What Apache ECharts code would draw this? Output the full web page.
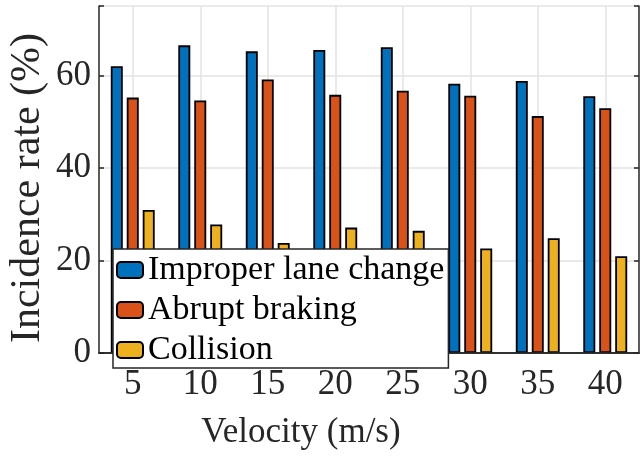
<!DOCTYPE html>
<html><head><meta charset="utf-8">
<script src="https://cdn.jsdelivr.net/npm/echarts@6/dist/echarts.min.js"></script>
<style>html,body{margin:0;padding:0;background:#fff}#c{width:641px;height:457px}</style>
</head><body><div id="c"></div>
<script>
const categories = ['5','10','15','20','25','30','35','40'];
const improperLaneChange = [62.0, 66.5, 65.2, 65.5, 66.1, 58.2, 58.8, 55.5];
const abruptBraking = [55.2, 54.6, 59.1, 55.8, 56.7, 55.6, 51.2, 52.9];
const collision = [30.9, 27.8, 23.8, 27.1, 26.4, 22.6, 24.8, 20.9];
const yTicks = [0, 20, 40, 60];
const seriesNames = ['Improper lane change', 'Abrupt braking', 'Collision'];
const colors = ['#0072BD', '#D95319', '#EDB120'];
const xTitle = 'Velocity (m/s)';
const yTitle = 'Incidence rate (%)';

const font = 'Liberation Serif';
const axisColor = '#262626';
const gridColor = '#e3e3e3';

const chart = echarts.init(document.getElementById('c'), null, {renderer: 'canvas'});
const barSeries = [improperLaneChange, abruptBraking, collision].map((d, i) => ({
  name: seriesNames[i], type: 'bar', data: d, barWidth: 12, barGap: '33%', z: 2,
  itemStyle: {color: colors[i], borderColor: '#000', borderWidth: 1.8}
}));
chart.setOption({
  animation: false,
  grid: {left: 99, right: 2, top: 6, bottom: 104, containLabel: false, outerBoundsMode: 'none'},
  xAxis: [{
    type: 'category', data: categories, position: 'bottom', z: 3,
    axisLine: {lineStyle: {color: axisColor, width: 1.5}},
    axisTick: {inside: true, alignWithLabel: true, length: 5, lineStyle: {color: axisColor, width: 1.5}},
    axisLabel: {fontFamily: font, fontSize: 35, color: '#262626', margin: 14},
    splitLine: {show: false}
  }, {
    type: 'category', data: categories, position: 'top', z: 3,
    axisLine: {lineStyle: {color: axisColor, width: 1.5}},
    axisTick: {inside: true, alignWithLabel: true, length: 5, lineStyle: {color: axisColor, width: 1.5}},
    axisLabel: {show: false}, splitLine: {show: false}
  }],
  yAxis: [{
    type: 'value', min: 0, max: 75, interval: 20, position: 'left', z: 3,
    axisLine: {show: true, lineStyle: {color: axisColor, width: 1.5}},
    axisTick: {show: true, inside: true, length: 5, lineStyle: {color: axisColor, width: 1.5}},
    axisLabel: {fontFamily: font, fontSize: 35, color: '#262626', margin: 8,
      formatter: v => yTicks.includes(v) ? String(v) : ''},
    splitLine: {show: false}
  }, {
    type: 'value', min: 0, max: 75, interval: 20, position: 'right', z: 0,
    axisLine: {show: true, lineStyle: {color: axisColor, width: 1.5}},
    axisTick: {show: true, inside: true, length: 5, lineStyle: {color: axisColor, width: 1.5}},
    axisLabel: {show: false},
    splitLine: {show: true, lineStyle: {color: gridColor, width: 1.5}}
  }],
  legend: {
    data: seriesNames, orient: 'vertical', left: 113, top: 249,
    backgroundColor: '#fff', borderColor: axisColor, borderWidth: 1.5, borderRadius: 0,
    padding: [4, 4, 1, 3], itemGap: 6, itemWidth: 26, itemHeight: 16, z: 10,
    textStyle: {fontFamily: font, fontSize: 34, color: '#000', lineHeight: 32}
  },
  graphic: [{
    type: 'text', x: 301, y: 433, z: 10,
    style: {text: xTitle, font: '35px "Liberation Serif"', fill: '#262626', align: 'center', verticalAlign: 'middle'}
  }, {
    type: 'text', x: 28, y: 188, rotation: Math.PI / 2, z: 10,
    style: {text: yTitle, font: '42px "Liberation Serif"', fill: '#262626', align: 'center', verticalAlign: 'middle'}
  }],
  series: [{
    type: 'line', data: [], silent: true,
    markLine: {silent: true, symbol: 'none', z: 1, animation: false,
      label: {show: false}, lineStyle: {color: gridColor, width: 1.5, type: 'solid'},
      data: categories.map(c => ({xAxis: c}))}
  }].concat(barSeries)
});
</script></body></html>
